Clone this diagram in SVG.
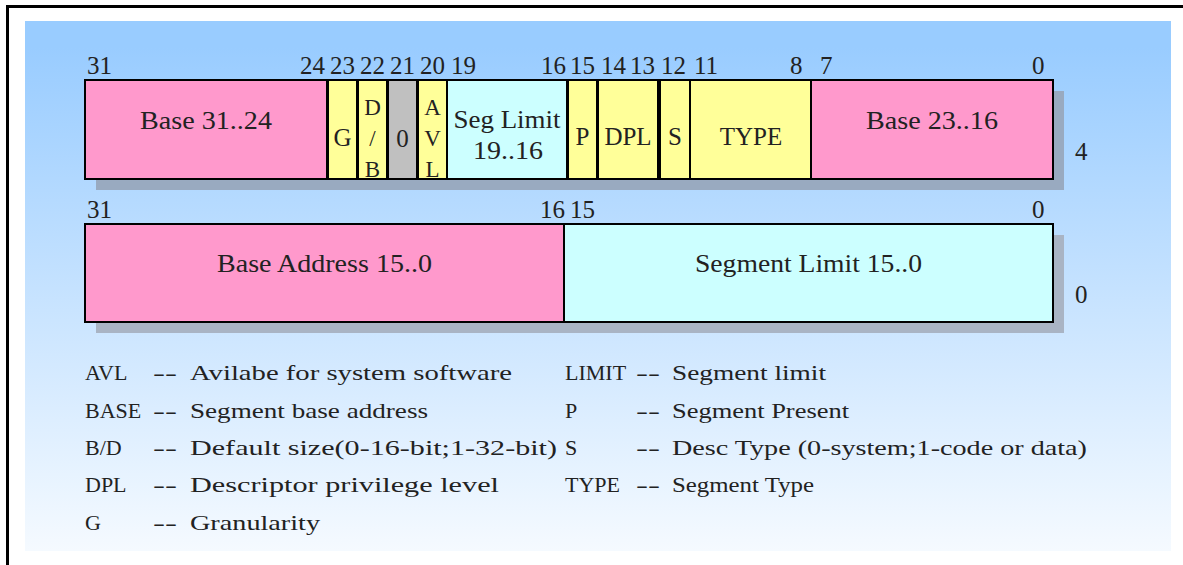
<svg xmlns="http://www.w3.org/2000/svg" width="1183" height="565" viewBox="0 0 1183 565">
<defs>
<linearGradient id="bg" x1="0" y1="0" x2="0" y2="1">
<stop offset="0.05" stop-color="#99CCFF"/>
<stop offset="1" stop-color="#F5FAFF"/>
</linearGradient>
</defs>
<style>
text{font-family:"Liberation Serif","Noto Sans CJK SC",serif;fill:#222;}
.num{font-size:25px;}
.fld{font-size:25px;text-anchor:middle;}
.stk{font-size:23px;text-anchor:middle;}
.leg{font-size:22px;}
.box{stroke:#000;stroke-width:2;}
.pink{fill:#FF99CC;}
.yel{fill:#FFFF99;}
.cyan{fill:#CCFFFF;}
.gray{fill:#C0C0C0;}
</style>
<rect x="0" y="0" width="1183" height="565" fill="#fff"/>
<rect x="7.5" y="6.5" width="1200" height="600" fill="none" stroke="#000" stroke-width="3"/>
<rect x="25" y="21" width="1146" height="530" fill="url(#bg)"/>

<!-- shadows -->
<rect x="96" y="91" width="968" height="99" fill="#99AAC0"/>
<rect x="96" y="235" width="968" height="98" fill="#A9B4C4"/>

<!-- bit numbers row 1 -->
<g id="bits-high">
<text class="num" x="87" y="74">31</text>
<text class="num" x="300" y="74">24</text>
<text class="num" x="330" y="74">23</text>
<text class="num" x="360" y="74">22</text>
<text class="num" x="390" y="74">21</text>
<text class="num" x="420" y="74">20</text>
<text class="num" x="451" y="74">19</text>
<text class="num" x="541" y="74">16</text>
<text class="num" x="570" y="74">15</text>
<text class="num" x="601" y="74">14</text>
<text class="num" x="630" y="74">13</text>
<text class="num" x="661" y="74">12</text>
<text class="num" x="694" y="74">11</text>
<text class="num" x="790" y="74">8</text>
<text class="num" x="820" y="74">7</text>
<text class="num" x="1032" y="74">0</text>
<text class="num" x="1075" y="160">4</text>
</g>

<g id="bits-low">
<text class="num" x="87" y="218">31</text>
<text class="num" x="540" y="218">16</text>
<text class="num" x="570" y="218">15</text>
<text class="num" x="1032" y="218">0</text>
<text class="num" x="1075" y="303">0</text>
</g>

<!-- row 1 fields -->
<g id="f-base-31-24">
<rect class="box pink" x="85" y="80" width="242" height="99"/>
<text class="fld" x="206" y="129" textLength="132" lengthAdjust="spacingAndGlyphs">Base 31..24</text>
</g>
<g id="f-g">
<rect class="box yel" x="328" y="80" width="29" height="99"/>
<text class="fld" x="342.5" y="146">G</text>
</g>
<g id="f-db">
<rect class="box yel" x="358" y="80" width="29" height="99"/>
<text class="stk" x="372.5" y="115">D</text>
<text class="stk" x="372.5" y="146">/</text>
<text class="stk" x="372.5" y="177">B</text>
</g>
<g id="f-zero">
<rect class="box gray" x="388" y="80" width="29" height="99"/>
<text class="fld" x="402.5" y="147">0</text>
</g>
<g id="f-avl">
<rect class="box yel" x="418" y="80" width="29" height="99"/>
<text class="stk" x="432.5" y="115">A</text>
<text class="stk" x="432.5" y="146">V</text>
<text class="stk" x="432.5" y="177">L</text>
</g>
<g id="f-seglimit-19-16">
<rect class="box cyan" x="447" y="80" width="120" height="99"/>
<text class="fld" x="507" y="128" textLength="107" lengthAdjust="spacingAndGlyphs">Seg Limit</text>
<text class="fld" x="508" y="159" textLength="70" lengthAdjust="spacingAndGlyphs">19..16</text>
</g>
<g id="f-p">
<rect class="box yel" x="568" y="80" width="29" height="99"/>
<text class="fld" x="582.5" y="145">P</text>
</g>
<g id="f-dpl">
<rect class="box yel" x="598" y="80" width="60" height="99"/>
<text class="fld" x="628" y="145">DPL</text>
</g>
<g id="f-s">
<rect class="box yel" x="660" y="80" width="30" height="99"/>
<text class="fld" x="675" y="145">S</text>
</g>
<g id="f-type">
<rect class="box yel" x="690" y="80" width="121" height="99"/>
<text class="fld" x="751" y="145">TYPE</text>
</g>
<g id="f-base-23-16">
<rect class="box pink" x="811" y="80" width="242" height="99"/>
<text class="fld" x="932" y="129" textLength="132" lengthAdjust="spacingAndGlyphs">Base 23..16</text>
</g>

<!-- row 2 fields -->
<g id="f-base-15-0">
<rect class="box pink" x="85" y="224" width="479" height="98"/>
<text class="fld" x="324.5" y="272" textLength="215" lengthAdjust="spacingAndGlyphs">Base Address 15..0</text>
</g>
<g id="f-seglimit-15-0">
<rect class="box cyan" x="564" y="224" width="489" height="98"/>
<text class="fld" x="808.5" y="272" textLength="227" lengthAdjust="spacingAndGlyphs">Segment Limit 15..0</text>
</g>

<g id="connectors"></g>

<!-- legend -->
<g id="legend-left">
<text class="leg" y="380"><tspan x="85">AVL</tspan><tspan x="153" textLength="24" lengthAdjust="spacingAndGlyphs">--</tspan><tspan x="190" textLength="322" lengthAdjust="spacingAndGlyphs">Avilabe for system software</tspan></text>
<text class="leg" y="418"><tspan x="85">BASE</tspan><tspan x="153" textLength="24" lengthAdjust="spacingAndGlyphs">--</tspan><tspan x="190" textLength="238" lengthAdjust="spacingAndGlyphs">Segment base address</tspan></text>
<text class="leg" y="455"><tspan x="85">B/D</tspan><tspan x="153" textLength="24" lengthAdjust="spacingAndGlyphs">--</tspan><tspan x="190" textLength="367" lengthAdjust="spacingAndGlyphs">Default size(0-16-bit;1-32-bit)</tspan></text>
<text class="leg" y="492"><tspan x="85">DPL</tspan><tspan x="153" textLength="24" lengthAdjust="spacingAndGlyphs">--</tspan><tspan x="190" textLength="309" lengthAdjust="spacingAndGlyphs">Descriptor privilege level</tspan></text>
<text class="leg" y="530"><tspan x="85">G</tspan><tspan x="153" textLength="24" lengthAdjust="spacingAndGlyphs">--</tspan><tspan x="190" textLength="130" lengthAdjust="spacingAndGlyphs">Granularity</tspan></text>
</g>
<g id="legend-right">
<text class="leg" y="380"><tspan x="565">LIMIT</tspan><tspan x="636" textLength="24" lengthAdjust="spacingAndGlyphs">--</tspan><tspan x="672" textLength="154" lengthAdjust="spacingAndGlyphs">Segment limit</tspan></text>
<text class="leg" y="418"><tspan x="565">P</tspan><tspan x="636" textLength="24" lengthAdjust="spacingAndGlyphs">--</tspan><tspan x="672" textLength="177" lengthAdjust="spacingAndGlyphs">Segment Present</tspan></text>
<text class="leg" y="455"><tspan x="565">S</tspan><tspan x="636" textLength="24" lengthAdjust="spacingAndGlyphs">--</tspan><tspan x="672" textLength="415" lengthAdjust="spacingAndGlyphs">Desc Type (0-system;1-code or data)</tspan></text>
<text class="leg" y="492"><tspan x="565">TYPE</tspan><tspan x="636" textLength="24" lengthAdjust="spacingAndGlyphs">--</tspan><tspan x="672" textLength="142" lengthAdjust="spacingAndGlyphs">Segment Type</tspan></text>
</g>
</svg>
